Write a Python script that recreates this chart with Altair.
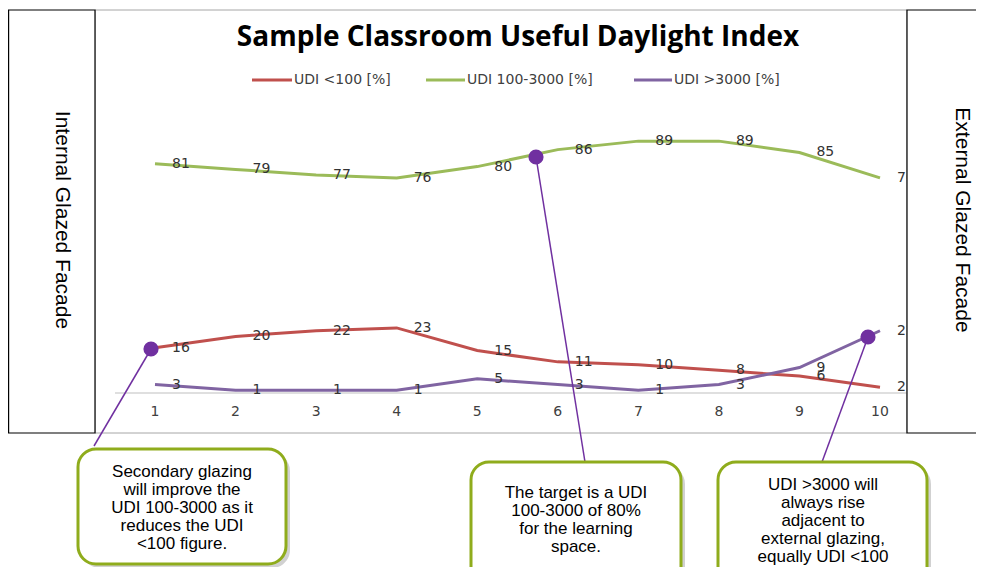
import altair as alt
import pandas as pd

# ---------------- data ----------------
categories = [1, 2, 3, 4, 5, 6, 7, 8, 9, 10]
series_names = ["UDI <100 [%]", "UDI 100-3000 [%]", "UDI >3000 [%]"]
udi_low = [16, 20, 22, 23, 15, 11, 10, 8, 6, 2]
udi_useful = [81, 79, 77, 76, 80, 86, 89, 89, 85, 76]
udi_high = [3, 1, 1, 1, 5, 3, 1, 3, 9, 22]
series_colors = ["#c0504d", "#9bbb59", "#8064a2"]

title_text = "Sample Classroom Useful Daylight Index"
left_label = "Internal Glazed Facade"
right_label = "External Glazed Facade"
callout_1 = ["Secondary glazing", "will improve the", "UDI 100-3000 as it",
             "reduces the UDI", "<100 figure."]
callout_2 = ["The target is a UDI", "100-3000 of 80%", "for the learning", "space."]
callout_3 = ["UDI >3000 will", "always rise", "adjacent to",
             "external glazing,", "equally UDI <100"]

rows = []
for name, vals in zip(series_names, [udi_low, udi_useful, udi_high]):
    for c, v in zip(categories, vals):
        rows.append({"series": name, "cat": c, "value": v})
df = pd.DataFrame(rows)
cats_df = pd.DataFrame({"cat": categories})

one = alt.Data(values=[{}])

xs = alt.Scale(domain=[1, 10], range=[147, 872])
ys = alt.Scale(domain=[0, 100], range=[385, 102])
X = alt.X("cat:Q", scale=xs, axis=None)
Y = alt.Y("value:Q", scale=ys, axis=None)
COL = alt.Color("series:N", scale=alt.Scale(domain=series_names, range=series_colors), legend=None)

PURPLE = "#7030a0"
OLIVE = "#8fac1c"

def rect(x, x2, y, y2, **kw):
    return alt.Chart(one).mark_rect(**kw).encode(
        x=alt.value(x), x2=alt.value(x2), y=alt.value(y), y2=alt.value(y2))

def rule(x, x2, y, y2, **kw):
    return alt.Chart(one).mark_rule(**kw).encode(
        x=alt.value(x), x2=alt.value(x2), y=alt.value(y), y2=alt.value(y2))

def text(x, y, t, **kw):
    return alt.Chart(one).mark_text(**kw).encode(
        x=alt.value(x), y=alt.value(y), text=alt.value(t))

layers = []
# chart area border
layers.append(rect(87, 899, 2, 425, fill="white", stroke="#a6a6a6", strokeWidth=1))
# axis line
layers.append(rule(107, 899, 385, 385, color="#bfbfbf", strokeWidth=1))
# x tick labels
layers.append(alt.Chart(cats_df).mark_text(font="DejaVu Sans", fontSize=14, color="#404040",
                                           baseline="middle").encode(
    x=X, y=alt.value(404), text=alt.Text("cat:Q")))
# data lines
layers.append(alt.Chart(df).mark_line(strokeWidth=3).encode(x=X, y=Y, color=COL, detail="series:N"))
# data labels
layers.append(alt.Chart(df).mark_text(font="DejaVu Sans", fontSize=14, color="#333333",
                                      align="left", baseline="middle", dx=17).encode(
    x=X, y=Y, text=alt.Text("value:Q")))
# right box (covers label overflow)
layers.append(rect(899, 1000, 2, 425, fill="white", stroke="black", strokeWidth=1.2))
# left box
layers.append(rect(0.6, 87, 2, 425, fill="white", stroke="black", strokeWidth=1.2))
layers.append(text(54, 212, left_label, angle=90, font="Liberation Sans", fontSize=21,
                   color="black", align="center", baseline="middle"))
layers.append(text(954, 212, right_label, angle=90, font="Liberation Sans", fontSize=21,
                   color="black", align="center", baseline="middle"))
# title
layers.append(text(510, 30, title_text, font="Open Sans", fontWeight="bold", fontSize=28,
                   color="black", align="center", baseline="middle"))
# legend
legend_x = [(244, 284, 286), (418, 457, 459), (626, 664, 666)]
for (lx1, lx2, tx), name, colr in zip(legend_x, series_names, series_colors):
    layers.append(rule(lx1, lx2, 72, 72, color=colr, strokeWidth=3))
    layers.append(text(tx, 72, name, font="DejaVu Sans", fontSize=14, color="#404040",
                       align="left", baseline="middle"))
# callout leader lines
layers.append(rule(143, 86, 341, 438, color=PURPLE, strokeWidth=1.5))
layers.append(rule(528, 577, 149, 454, color=PURPLE, strokeWidth=1.5))
layers.append(rule(860, 814, 329, 454, color=PURPLE, strokeWidth=1.5))
for cx, cy in [(143, 341), (528, 149), (860, 329)]:
    layers.append(alt.Chart(one).mark_point(filled=True, shape="circle", size=230,
                                            color=PURPLE, opacity=1).encode(
        x=alt.value(cx), y=alt.value(cy)))
# callout boxes
boxes = [((70, 278, 441, 556), 174, 456, callout_1),
         ((463, 673, 454, 600), 568, 477, callout_2),
         ((710, 919, 454, 600), 815, 469, callout_3)]
for (bx1, bx2, by1, by2), tx, ty, lines in boxes:
    layers.append(rect(bx1 + 4, bx2 + 4, by1 + 4, by2 + 4, fill="#000000", opacity=0.18,
                       cornerRadius=18))
    layers.append(rect(bx1, bx2, by1, by2, fill="white", stroke=OLIVE, strokeWidth=3,
                       cornerRadius=18))
    layers.append(text(tx, ty, lines, font="Liberation Sans", fontSize=17, lineHeight=18,
                       color="black", align="center", baseline="top"))

chart = alt.layer(*layers).properties(
    width=968, height=559, padding=0, autosize="none", background="white"
).configure_view(stroke=None)

chart.save("out.html", embed_options={"renderer": "svg", "actions": False})
